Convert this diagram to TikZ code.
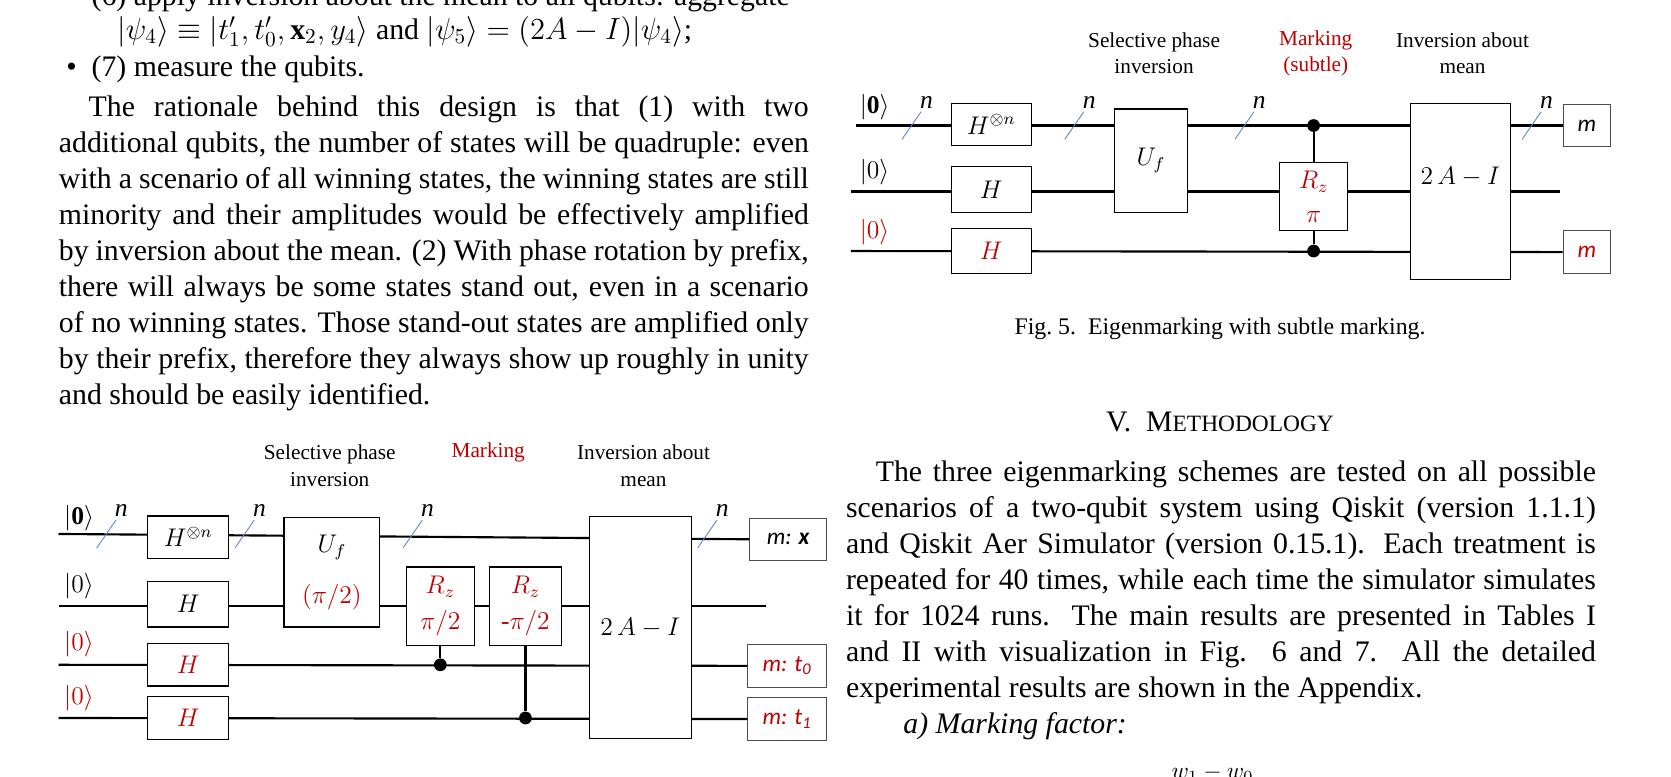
\documentclass[tikz,border=0pt]{standalone}
\usepackage{fontspec}
\setmainfont{Liberation Serif}
\newfontfamily\carl{Carlito}
\usepackage{amsmath,amssymb}
\definecolor{markred}{RGB}{192,0,0}
\definecolor{slashblue}{RGB}{90,130,200}
\newcommand{\qslash}[2]{%
  \draw[slashblue, line width=0.4pt] (#1-9,#2+13) -- (#1+9,#2-13);
  \node[font=\fontsize{12}{12}\selectfont\itshape, inner sep=0pt] at (#1+14,#2-22) {n};}
\begin{document}
\begin{tikzpicture}[x=0.5pt,y=-0.5pt,
  body/.style={font=\fontsize{14}{16.9}\selectfont, inner sep=0pt, text width=352.5pt, align=justify},
  gate/.style={draw, fill=white, line width=0.6pt, inner sep=0pt, font=\fontsize{12}{14}\selectfont},
  meas/.style={draw=black!70, fill=white, line width=0.4pt, inner sep=0pt, font=\carl\itshape\fontsize{11}{13}\selectfont},
  wire/.style={line width=1pt},
  ctrl/.style={circle, fill, inner sep=0pt, minimum size=6pt},
  ket/.style={font=\fontsize{12}{14}\selectfont, inner sep=0pt},
  stage/.style={font=\fontsize{10}{12.5}\selectfont, align=center, inner sep=0pt}]
\useasboundingbox (0,0) rectangle (1571,730);

% left column text
\node[anchor=base west, font=\fontsize{14}{16.9}\selectfont, inner sep=0pt] (b6) at (62,5)
  {\textbullet\ \ (6) apply inversion about the mean to all qubits: aggregate};
\node[anchor=base west, font=\fontsize{14}{16.9}\selectfont, inner sep=0pt] (psi) at (110,37)
  {$|\psi_4\rangle \equiv |t'_1,t'_0,\mathbf{x}_2,y_4\rangle$ and $|\psi_5\rangle=(2A-I)|\psi_4\rangle$;};
\node[anchor=base west, font=\fontsize{14}{16.9}\selectfont, inner sep=0pt] (b7) at (62,72)
  {\textbullet\ \ (7) measure the qubits.};
\node[body, anchor=north west] (para) at (55,90) {\setlength{\parindent}{14pt}\indent
  The rationale behind this design is that (1) with two\linebreak
  additional qubits, the number of states will be quadruple: even\linebreak
  with a scenario of all winning states, the winning states are still\linebreak
  minority and their amplitudes would be effectively amplified\linebreak
  by inversion about the mean. (2) With phase rotation by prefix,\linebreak
  there will always be some states stand out, even in a scenario\linebreak
  of no winning states. Those stand-out states are amplified only\linebreak
  by their prefix, therefore they always show up roughly in unity\linebreak
  and should be easily identified.};

% right column text
\node[stage, font=\fontsize{11.2}{13}\selectfont] (cap) at (1147,309) {Fig.~5.\ \ Eigenmarking with subtle marking.};
\node[font=\fontsize{14}{16.9}\selectfont, inner sep=0pt] (sec) at (1147,397) {V.\ \ M{\fontsize{11}{13}\selectfont ETHODOLOGY}};
\node[body, anchor=north west] (meth) at (795,433) {\setlength{\parindent}{14pt}\indent
  The three eigenmarking schemes are tested on all possible\linebreak
  scenarios of a two-qubit system using Qiskit (version 1.1.1)\linebreak
  and Qiskit Aer Simulator (version 0.15.1). Each treatment is\linebreak
  repeated for 40 times, while each time the simulator simulates\linebreak
  it for 1024 runs. The main results are presented in Tables I\linebreak
  and II with visualization in Fig. 6 and 7. All the detailed\linebreak
  experimental results are shown in the Appendix.\par
  \setlength{\parindent}{27pt}\indent\textit{a) Marking factor:}};
\node[font=\fontsize{11}{13}\selectfont, inner sep=0pt, anchor=base] (frac) at (1140,732) {$w_1-w_0$};

% circuit with subtle marking (top right)
\node[stage] (sel2) at (1085,50) {Selective phase\\inversion};
\node[stage, text=markred] (mrk2) at (1237,50) {Marking\\(subtle)};
\node[stage] (inv2) at (1375,50) {Inversion about\\mean};
\coordinate (r1) at (805,118);
\coordinate (r2) at (800,180);
\coordinate (r3) at (800,236);
\coordinate (r2e) at (1467,180);
\node[meas, minimum width=22.5pt, minimum height=20pt] (m1) at (1492,118) {m};
\node[meas, minimum width=22.5pt, minimum height=20pt, text=markred] (m2) at (1492,237) {m};
\draw[wire] (r1) -- (m1.west);
\draw[wire] (r2) -- (r2e);
\draw[wire] (r3) -- (m2.west);
\node[ket, anchor=base west] (k21) at (808,107) {$|\mathbf{0}\rangle$};
\node[ket, anchor=base west] (k22) at (808,168) {$|0\rangle$};
\node[ket, anchor=base west, text=markred] (k23) at (808,224) {$|0\rangle$};
\qslash{857}{118}
\node[gate, minimum width=37.5pt, minimum height=20pt] (hn2) at (932,117) {$H^{\otimes n}$};
\node[gate, minimum width=37.5pt, minimum height=21.5pt] (h2) at (932,178) {$H$};
\node[gate, minimum width=37.5pt, minimum height=21pt, text=markred] (hr2) at (932,236) {$H$};
\qslash{1010}{118}
\node[gate, minimum width=34.5pt, minimum height=48.5pt] (uf2) at (1082,151) {$U_f$};
\qslash{1170}{118}
\node[ctrl] (c21) at (1235,118) {};
\node[ctrl] (c23) at (1235,236) {};
\node[gate, minimum width=32pt, minimum height=32pt, align=center, text=markred] (rz2) at (1235,185) {$R_z$\\[2pt]$\pi$};
\draw[line width=1pt] (c21) -- (rz2.north);
\draw[line width=1pt] (rz2.south) -- (c23);
\node[gate, minimum width=47pt, minimum height=83pt] (aim2) at (1373,180) {};
\node[inner sep=0pt, font=\fontsize{12}{14}\selectfont] (aimt2) at (1373,166) {$2\,A-I$};
\qslash{1440}{118}

% circuit with marking (bottom left)
\node[stage] (sel1) at (310,438) {Selective phase\\inversion};
\node[stage, text=markred] (mrk1) at (459,425) {Marking};
\node[stage] (inv1) at (605,438) {Inversion about\\mean};
\coordinate (l1) at (55,502);
\coordinate (l2) at (55,570);
\coordinate (l3) at (55,625);
\coordinate (l4) at (55,675);
\coordinate (l2e) at (720,570);
\node[meas, minimum width=36pt, minimum height=20pt] (mx) at (741,507) {m: \textbf{x}};
\node[meas, minimum width=37pt, minimum height=20pt, text=markred] (mt0) at (740,626) {m: t\textsubscript{0}};
\node[meas, minimum width=37pt, minimum height=20pt, text=markred] (mt1) at (740,676) {m: t\textsubscript{1}};
\draw[wire] (l1) -- (mx.west);
\draw[wire] (l2) -- (l2e);
\draw[wire] (l3) -- (mt0.west);
\draw[wire] (l4) -- (mt1.west);
\node[ket, anchor=base west] (k11) at (60,493) {$|\mathbf{0}\rangle$};
\node[ket, anchor=base west] (k12) at (60,557) {$|0\rangle$};
\node[ket, anchor=base west, text=markred] (k13) at (60,612) {$|0\rangle$};
\node[ket, anchor=base west, text=markred] (k14) at (60,662) {$|0\rangle$};
\qslash{100}{502}
\node[gate, minimum width=38pt, minimum height=20pt] (hn1) at (177,505) {$H^{\otimes n}$};
\node[gate, minimum width=38pt, minimum height=21.5pt] (h1) at (177,568) {$H$};
\node[gate, minimum width=38pt, minimum height=20pt, text=markred] (ha1) at (177,625) {$H$};
\node[gate, minimum width=38pt, minimum height=20pt, text=markred] (hb1) at (177,675) {$H$};
\qslash{230}{502}
\node[gate, minimum width=45pt, minimum height=51.5pt, align=center] (uf1) at (312,538)
  {$U_f$\\[10pt]\textcolor{markred}{$(\pi/2)$}};
\qslash{388}{502}
\node[gate, minimum width=32pt, minimum height=37pt, align=center, text=markred] (rza) at (414,570) {$R_z$\\[3pt]$\pi/2$};
\node[gate, minimum width=34pt, minimum height=37pt, align=center, text=markred] (rzb) at (494,570) {$R_z$\\[3pt]-$\pi/2$};
\node[ctrl] (ca) at (414,625) {};
\node[ctrl] (cb) at (494,675) {};
\draw[line width=1pt] (rza.south) -- (ca);
\draw[line width=1pt] (rzb.south) -- (cb);
\node[gate, minimum width=48pt, minimum height=104.5pt] (aim1) at (602,590) {$2\,A-I$};
\qslash{665}{502}
\end{tikzpicture}
\end{document}
